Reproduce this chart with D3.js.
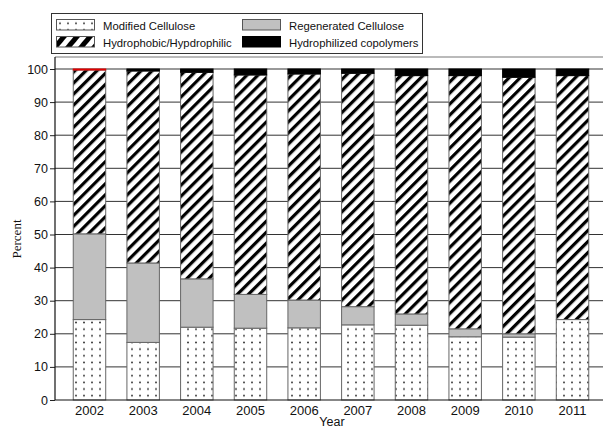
<!DOCTYPE html>
<html>
<head>
<meta charset="utf-8">
<script src="https://cdn.jsdelivr.net/npm/d3@7/dist/d3.min.js"></script>
<style>
  html, body { margin: 0; padding: 0; background: #fff; }
  svg { display: block; }
  text { font-family: "Liberation Sans", Arial, sans-serif; fill: #111; }
</style>
</head>
<body>
<svg id="chart" width="603" height="430"></svg>
<script>
// Share of each material class per year (percent of total)
const years = ["2002", "2003", "2004", "2005", "2006", "2007", "2008", "2009", "2010", "2011"];
const modified = [24.3, 17.4, 22.0, 21.7, 21.8, 22.7, 22.6, 19.1, 19.0, 24.3];
const regenerated = [25.9, 24.0, 14.6, 10.2, 8.4, 5.5, 3.4, 2.4, 1.0, 0.0];
const hydrophobic = [49.5, 58.0, 62.4, 66.3, 68.3, 70.5, 72.0, 76.5, 77.5, 73.7];
const hydrophilized = [0.3, 0.6, 1.0, 1.8, 1.5, 1.3, 2.0, 2.0, 2.5, 2.0];
const seriesKeys = ["modified", "regenerated", "hydrophobic", "hydrophilized"];
const seriesLabels = ["Modified Cellulose", "Regenerated Cellulose", "Hydrophobic/Hypdrophilic", "Hydrophilized copolymers"];
const yTicks = [0, 10, 20, 30, 40, 50, 60, 70, 80, 90, 100];

// The first year's thin copolymer slice is drawn in red
const flaggedYear = "2002";

const rows = years.map((yr, i) => ({
  year: yr,
  modified: modified[i],
  regenerated: regenerated[i],
  hydrophobic: hydrophobic[i],
  hydrophilized: hydrophilized[i]
}));

const svg = d3.select("#chart");
const frame = { left: 55, top: 57, bottom: 400, right: 607 };

const x = d3.scaleBand()
  .domain(years)
  .range([frame.left, frame.right])
  .paddingInner(0.395)
  .paddingOuter(0.34);

const y = d3.scaleLinear()
  .domain([0, 100])
  .range([400, 69]);

// Fill patterns
const defs = svg.append("defs");
const dots = defs.append("pattern")
  .attr("id", "dots")
  .attr("patternUnits", "userSpaceOnUse")
  .attr("width", 8).attr("height", 6.65)
  .attr("x", 1).attr("y", 0);
dots.append("rect").attr("width", 8).attr("height", 6.65).attr("fill", "#fff");
dots.append("circle").attr("cx", 3).attr("cy", 3.3).attr("r", 1).attr("fill", "#333");

const hatch = defs.append("pattern")
  .attr("id", "hatch")
  .attr("patternUnits", "userSpaceOnUse")
  .attr("width", 7.8).attr("height", 10)
  .attr("patternTransform", "rotate(45)");
hatch.append("rect").attr("width", 7.8).attr("height", 10).attr("fill", "#fff");
hatch.append("rect").attr("x", 0).attr("width", 3.2).attr("height", 10).attr("fill", "#000");

const legendHatch = defs.append("pattern")
  .attr("id", "hatchLegend")
  .attr("patternUnits", "userSpaceOnUse")
  .attr("width", 10).attr("height", 10)
  .attr("patternTransform", "translate(0,0) rotate(40)");
legendHatch.append("rect").attr("width", 10).attr("height", 10).attr("fill", "#fff");
legendHatch.append("rect").attr("x", 0).attr("width", 5).attr("height", 10).attr("fill", "#000");

const fills = {
  modified: "url(#dots)",
  regenerated: "#c0c0c0",
  hydrophobic: "url(#hatch)",
  hydrophilized: "#000"
};
const legendFills = {
  modified: "url(#dots)",
  regenerated: "#c0c0c0",
  hydrophobic: "url(#hatchLegend)",
  hydrophilized: "#000"
};

// Horizontal grid lines
svg.append("g")
  .selectAll("line")
  .data(yTicks.filter(t => t > 0))
  .join("line")
  .attr("x1", frame.left).attr("x2", 603)
  .attr("y1", d => y(d)).attr("y2", d => y(d))
  .attr("stroke", "#333").attr("stroke-width", 1);

// Top frame line
svg.append("line")
  .attr("x1", frame.left).attr("x2", 603)
  .attr("y1", frame.top).attr("y2", frame.top)
  .attr("stroke", "#777").attr("stroke-width", 1.2);

// Stacked bars
const stacked = d3.stack().keys(seriesKeys)(rows);
const barG = svg.append("g");
stacked.forEach(layer => {
  barG.append("g")
    .selectAll("rect")
    .data(layer.filter(d => d[1] - d[0] > 0))
    .join("rect")
    .attr("x", d => x(d.data.year))
    .attr("width", x.bandwidth())
    .attr("y", d => y(d[1]))
    .attr("height", d => y(d[0]) - y(d[1]))
    .attr("fill", d => (layer.key === "hydrophilized" && d.data.year === flaggedYear) ? "#e00000" : fills[layer.key])
    .attr("stroke", d => (layer.key === "hydrophilized" && d.data.year === flaggedYear) ? "#e00000" : (layer.key === "hydrophilized" ? "#000" : "#666"))
    .attr("stroke-width", 1);
});

// Y axis
const yAxis = d3.axisLeft(y).tickValues(yTicks).tickSize(5).tickPadding(2);
const yg = svg.append("g")
  .attr("transform", `translate(${frame.left},0)`)
  .call(yAxis);
yg.select(".domain").remove();
yg.selectAll(".tick line").attr("stroke", "#222");
yg.selectAll(".tick text")
  .style("font-family", "'Liberation Sans', Arial, sans-serif")
  .attr("font-size", 12.5).attr("fill", "#222");
svg.append("line")
  .attr("x1", frame.left).attr("x2", frame.left)
  .attr("y1", frame.top).attr("y2", frame.bottom)
  .attr("stroke", "#111").attr("stroke-width", 1.2);

// X axis
const xAxis = d3.axisBottom(x).tickSize(0).tickPadding(6);
const xg = svg.append("g")
  .attr("transform", `translate(0,${frame.bottom})`)
  .call(xAxis);
xg.select(".domain").remove();
xg.selectAll(".tick text")
  .style("font-family", "'Liberation Sans', Arial, sans-serif")
  .attr("font-size", 13).attr("fill", "#222");
svg.append("line")
  .attr("x1", frame.left).attr("x2", 603)
  .attr("y1", frame.bottom).attr("y2", frame.bottom)
  .attr("stroke", "#111").attr("stroke-width", 1.2);

// Axis titles
svg.append("text")
  .attr("x", 332).attr("y", 426)
  .attr("text-anchor", "middle")
  .attr("font-size", 12.5)
  .text("Year");
svg.append("text")
  .attr("transform", "translate(21,239) rotate(-90)")
  .attr("text-anchor", "middle")
  .style("font-family", "'Liberation Serif', 'Times New Roman', serif")
  .attr("font-size", 13)
  .text("Percent");

// Legend
const legend = svg.append("g");
legend.append("rect")
  .attr("x", 51.5).attr("y", 13.5)
  .attr("width", 371).attr("height", 40)
  .attr("fill", "#fff").attr("stroke", "#333").attr("stroke-width", 1);
const legendItems = [
  { key: "modified", col: 0, row: 0 },
  { key: "regenerated", col: 1, row: 0 },
  { key: "hydrophobic", col: 0, row: 1 },
  { key: "hydrophilized", col: 1, row: 1 }
];
const colX = [56, 242];
const rowY = [19.5, 36.5];
legendItems.forEach(item => {
  const i = seriesKeys.indexOf(item.key);
  legend.append("rect")
    .attr("x", colX[item.col] + 0.5).attr("y", rowY[item.row])
    .attr("width", 38).attr("height", 10.5)
    .attr("fill", legendFills[item.key])
    .attr("stroke", item.key === "hydrophilized" ? "#000" : "#555")
    .attr("stroke-width", 1);
  legend.append("text")
    .attr("x", colX[item.col] + 47).attr("y", rowY[item.row] + 10.5)
    .attr("font-size", 11.3)
    .text(seriesLabels[i]);
});
</script>
</body>
</html>
